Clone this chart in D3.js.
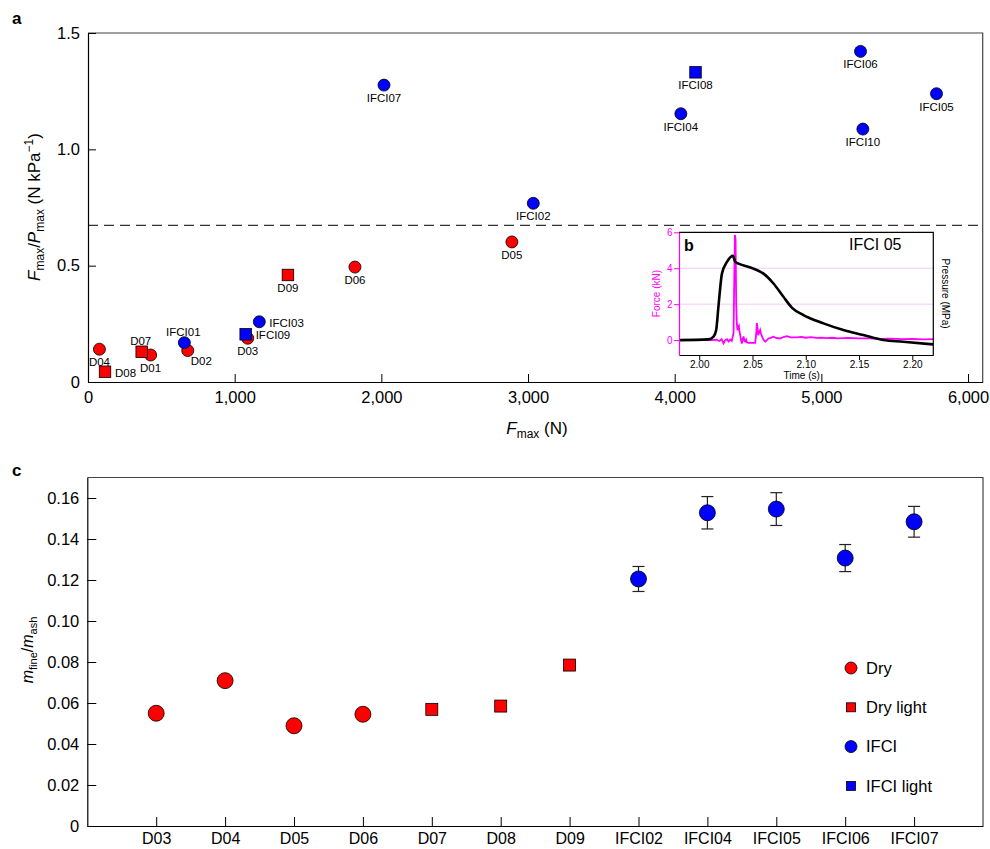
<!DOCTYPE html>
<html>

<head>
  <meta charset="utf-8">
  <title></title>
  <style>
    body { margin: 0; background: #fff; }
    svg { font-family: "Liberation Sans", Arial, sans-serif; }
  </style>
</head>

<body>

  <script src="https://d3js.org/d3.v7.min.js" charset="utf-8"></script>
  <script type="text/javascript">
    // ---- panel a : Fmax vs Fmax/Pmax
    var aNames = ["D01", "D02", "D03", "D04", "D05", "D06", "D07", "D08", "D09",
      "IFCI01", "IFCI02", "IFCI03", "IFCI04", "IFCI05", "IFCI06", "IFCI07", "IFCI08", "IFCI09", "IFCI10"];
    var aFmax = [427, 680, 1089, 78, 2890, 1820, 366, 116, 1363,
      657, 3036, 1168, 4042, 5785, 5267, 2018, 4142, 1075, 5283];
    var aRatio = [0.116, 0.135, 0.188, 0.141, 0.602, 0.494, 0.130, 0.044, 0.460,
      0.169, 0.768, 0.259, 1.153, 1.239, 1.421, 1.276, 1.331, 0.205, 1.087];
    var aGroup = ["Dry", "Dry", "Dry", "Dry", "Dry", "Dry", "Dry light", "Dry light", "Dry light",
      "IFCI", "IFCI", "IFCI", "IFCI", "IFCI", "IFCI", "IFCI", "IFCI light", "IFCI light", "IFCI"];
    var aLabelSide = ["below", "belowright", "below", "below", "below", "below", "above", "right", "below",
      "above", "below", "right", "below", "below", "below", "below", "below", "right", "below"];
    var aXTicks = [0, 1000, 2000, 3000, 4000, 5000, 6000];
    var aYTicks = [0, 0.5, 1.0, 1.5];
    var aThreshold = 0.673;

    // ---- panel b : IFCI 05 time series
    var bForceTime = [1.981, 1.990, 2.000, 2.010, 2.016, 2.019, 2.021, 2.0228, 2.0245, 2.026, 2.0275, 2.029,
      2.0305, 2.0315, 2.0322, 2.0330, 2.0335, 2.0341, 2.0347, 2.0353, 2.0359, 2.0366, 2.0372, 2.0378,
      2.0384, 2.0392, 2.0400, 2.0408, 2.0416, 2.0424, 2.0431, 2.0440, 2.0447, 2.046, 2.048, 2.050,
      2.0525, 2.0534, 2.0541, 2.0547, 2.0553, 2.0562, 2.0572, 2.058, 2.059, 2.0605, 2.0619, 2.0635,
      2.065, 2.067, 2.0697, 2.072, 2.0759, 2.079, 2.0822, 2.086, 2.0916, 2.096, 2.100, 2.105, 2.110,
      2.115, 2.120, 2.125, 2.130, 2.140, 2.150, 2.160, 2.170, 2.180, 2.190, 2.200, 2.210, 2.2197];
    var bForce = [0.0, 0.01, 0.0, 0.0, 0.02, -0.05, 0.05, -0.19, 0.0, 0.05, -0.08, 0.03,
      -0.04, 0.2, 0.4, 4.0, 5.85, 5.6, 2.0, 0.9, 0.55, 0.75, 0.8, 0.45,
      0.3, 0.0, -0.19, 0.05, 0.2, -0.05, -0.08, 0.02, -0.12, -0.15, -0.14, -0.16,
      -0.15, 0.3, 0.95, 0.7, 0.28, 0.4, 0.56, 0.35, 0.19, 0.0, -0.09, 0.0,
      0.09, 0.12, 0.19, 0.12, 0.09, 0.17, 0.22, 0.15, 0.15, 0.18, 0.13, 0.16, 0.12,
      0.14, 0.11, 0.13, 0.10, 0.12, 0.09, 0.10, 0.07, 0.08, 0.05, 0.06, 0.04, 0.05];
    var bPressTime = [1.981, 2.0087, 2.0134, 2.0159, 2.018, 2.0213, 2.026, 2.0316, 2.0338, 2.0369,
      2.0509, 2.0603, 2.0697, 2.079, 2.0869, 2.0978, 2.1166, 2.1353, 2.154, 2.1728, 2.1915, 2.2197];
    var bPressure = [0.0, 0.04, 0.19, 0.56, 1.85, 3.7, 4.35, 4.69, 4.35, 4.26,
      3.98, 3.7, 3.15, 2.41, 1.81, 1.39, 0.93, 0.56, 0.28, 0.0, -0.09, -0.24];
    var bTimeTicks = [2.00, 2.05, 2.10, 2.15, 2.20];
    var bForceTicks = [0, 2, 4, 6];

    // ---- panel c : mfine/mash
    var cCats = ["D03", "D04", "D05", "D06", "D07", "D08", "D09", "IFCI02", "IFCI04", "IFCI05", "IFCI06", "IFCI07"];
    var cValues = [0.0550, 0.0709, 0.0489, 0.0545, 0.0569, 0.0585, 0.0785, 0.1205, 0.1528, 0.1546, 0.1307, 0.1484];
    var cErrors = [0, 0, 0, 0, 0, 0, 0, 0.0061, 0.0079, 0.0080, 0.0066, 0.0075];
    var cGroup = ["Dry", "Dry", "Dry", "Dry", "Dry light", "Dry light", "Dry light", "IFCI", "IFCI", "IFCI", "IFCI", "IFCI"];
    var cYTicks = [0, 0.02, 0.04, 0.06, 0.08, 0.10, 0.12, 0.14, 0.16];
    var legendNames = ["Dry", "Dry light", "IFCI", "IFCI light"];

    var width = 990;
    var height = 849;
    var svg = d3.select("body")
      .append("svg")
      .attr("width", width)
      .attr("height", height);

    function fillOf(g) {
      return g.indexOf("Dry") === 0 ? "#ff0000" : "#0000ff";
    }

    function isSquare(g) {
      return g.indexOf("light") > 0;
    }

    // draws a marker (circle or square) into sel
    function addMarker(sel, g, cx, cy, r, side) {
      if (isSquare(g)) {
        sel.append("rect")
          .attr("x", cx - side / 2)
          .attr("y", cy - side / 2)
          .attr("width", side)
          .attr("height", side)
          .attr("fill", fillOf(g))
          .attr("stroke", "#000")
          .attr("stroke-width", 0.8);
      } else {
        sel.append("circle")
          .attr("cx", cx)
          .attr("cy", cy)
          .attr("r", r)
          .attr("fill", fillOf(g))
          .attr("stroke", "#000")
          .attr("stroke-width", 0.8);
      }
    }

    function styleAxis(g, size) {
      g.selectAll("text").attr("font-size", size).attr("font-family", "Liberation Sans, Arial, sans-serif").attr("fill", "#000");
      g.selectAll("line").attr("stroke-width", 1);
      g.select(".domain").attr("stroke-width", 1.2);
    }

    // ===================== panel a
    var xA = d3.scaleLinear().domain([0, 6100]).range([88, 982.7]);
    var yA = d3.scaleLinear().domain([0, 1.5]).range([382, 33]);

    var gA = svg.append("g");

    // frame top / right
    gA.append("path")
      .attr("d", "M" + xA.range()[0] + "," + yA(1.5) + "H" + xA.range()[1] + "V" + yA(0))
      .attr("fill", "none")
      .attr("stroke", "#444")
      .attr("stroke-width", 1.2);

    gA.append("line")
      .attr("x1", xA.range()[0])
      .attr("x2", xA.range()[1])
      .attr("y1", yA(aThreshold))
      .attr("y2", yA(aThreshold))
      .attr("stroke", "#333")
      .attr("stroke-width", 1.2)
      .attr("stroke-dasharray", "10,6");

    var axA = gA.append("g")
      .attr("transform", "translate(0," + yA(0) + ")")
      .call(d3.axisBottom(xA).tickValues(aXTicks).tickFormat(d3.format(",")).tickSize(-8).tickSizeOuter(0).tickPadding(9));
    styleAxis(axA, 16.5);

    var ayA = gA.append("g")
      .attr("transform", "translate(" + xA(0) + ",0)")
      .call(d3.axisLeft(yA).tickValues(aYTicks).tickFormat(function(d) {
        return d === 0 ? "0" : d3.format(".1f")(d);
      }).tickSize(-8).tickSizeOuter(0).tickPadding(8));
    styleAxis(ayA, 16.5);

    // axis titles
    var xtA = gA.append("text")
      .attr("x", 537)
      .attr("y", 434)
      .attr("text-anchor", "middle")
      .attr("font-size", 17);
    xtA.append("tspan").attr("font-style", "italic").text("F");
    xtA.append("tspan").attr("font-size", 12).attr("dy", 4).text("max");
    xtA.append("tspan").attr("dy", -4).text(" (N)");

    var ytA = gA.append("text")
      .attr("transform", "translate(40," + 207 + ") rotate(-90)")
      .attr("text-anchor", "middle")
      .attr("font-size", 17);
    ytA.append("tspan").attr("font-style", "italic").text("F");
    ytA.append("tspan").attr("font-size", 12).attr("dy", 4).text("max");
    ytA.append("tspan").attr("dy", -4).text("/");
    ytA.append("tspan").attr("font-style", "italic").text("P");
    ytA.append("tspan").attr("font-size", 12).attr("dy", 4).text("max");
    ytA.append("tspan").attr("dy", -4).text(" (N kPa");
    ytA.append("tspan").attr("font-size", 12).attr("dy", -7).text("\u22121");
    ytA.append("tspan").attr("dy", 7).text(")");

    svg.append("text")
      .attr("x", 12)
      .attr("y", 24)
      .attr("font-size", 17)
      .attr("font-weight", "bold")
      .text("a");

    // markers, drawn in group order
    var order = d3.range(aNames.length).sort(function(p, q) {
      var rank = { "Dry": 0, "Dry light": 1, "IFCI": 2, "IFCI light": 3 };
      return rank[aGroup[p]] - rank[aGroup[q]];
    });
    var markA = gA.append("g");
    order.forEach(function(i) {
      addMarker(markA, aGroup[i], xA(aFmax[i]), yA(aRatio[i]), 6, 11.5);
    });

    var labA = gA.append("g").attr("font-size", 11.5);
    aNames.forEach(function(name, i) {
      var px = xA(aFmax[i]);
      var py = yA(aRatio[i]);
      var t = labA.append("text").text(name);
      var side = aLabelSide[i];
      if (side === "below") {
        t.attr("x", px).attr("y", py + 17).attr("text-anchor", "middle");
      } else if (side === "above") {
        t.attr("x", px - 1).attr("y", py - 7).attr("text-anchor", "middle");
      } else if (side === "right") {
        t.attr("x", px + 10).attr("y", py + 5).attr("text-anchor", "start");
      } else {
        t.attr("x", px + 3).attr("y", py + 14).attr("text-anchor", "start");
      }
    });

    // ===================== panel b (inset)
    var xB = d3.scaleLinear().domain([1.981, 2.2197]).range([679, 933.3]);
    var yB = d3.scaleLinear().domain([-0.83, 6]).range([355, 232.3]);
    var pB = d3.scaleLinear().domain([-0.83, 6]).range([355, 232.3]);

    var gB = svg.append("g");
    gB.append("rect")
      .attr("x", xB.range()[0])
      .attr("y", yB.range()[1])
      .attr("width", xB.range()[1] - xB.range()[0])
      .attr("height", yB.range()[0] - yB.range()[1])
      .attr("fill", "#fff");

    gB.selectAll(".grid")
      .data([2, 4])
      .enter().append("line")
      .attr("x1", xB.range()[0])
      .attr("x2", xB.range()[1])
      .attr("y1", function(d) { return yB(d); })
      .attr("y2", function(d) { return yB(d); })
      .attr("stroke", "#f6caf6")
      .attr("stroke-width", 1);

    gB.append("clipPath").attr("id", "clipB")
      .append("rect")
      .attr("x", xB.range()[0])
      .attr("y", yB.range()[1])
      .attr("width", xB.range()[1] - xB.range()[0])
      .attr("height", yB.range()[0] - yB.range()[1]);

    var forcePts = bForceTime.map(function(t, i) { return [t, bForce[i]]; });
    var pressPts = bPressTime.map(function(t, i) { return [t, bPressure[i]]; });

    gB.append("path")
      .attr("clip-path", "url(#clipB)")
      .attr("d", d3.line().x(function(d) { return xB(d[0]); }).y(function(d) { return yB(d[1]); })(forcePts))
      .attr("fill", "none")
      .attr("stroke", "#ff00ff")
      .attr("stroke-width", 1.8);

    gB.append("path")
      .attr("clip-path", "url(#clipB)")
      .attr("d", d3.line().curve(d3.curveMonotoneX).x(function(d) { return xB(d[0]); }).y(function(d) { return pB(d[1]); })(pressPts))
      .attr("fill", "none")
      .attr("stroke", "#000")
      .attr("stroke-width", 2.6)
      .attr("stroke-linejoin", "round");

    // frame
    gB.append("path")
      .attr("d", "M" + xB.range()[0] + "," + yB.range()[1] + "H" + xB.range()[1] + "V" + yB.range()[0])
      .attr("fill", "none")
      .attr("stroke", "#000")
      .attr("stroke-width", 1.2);

    var axB = gB.append("g")
      .attr("transform", "translate(0," + yB.range()[0] + ")")
      .call(d3.axisBottom(xB).tickValues(bTimeTicks).tickFormat(d3.format(".2f")).tickSize(5).tickSizeOuter(0).tickPadding(1));
    styleAxis(axB, 10);

    var ayB = gB.append("g")
      .attr("transform", "translate(" + xB.range()[0] + ",0)")
      .attr("color", "#ff00ff")
      .call(d3.axisLeft(yB).tickValues(bForceTicks).tickFormat(d3.format("d")).tickSize(5).tickSizeOuter(0).tickPadding(1.5));
    styleAxis(ayB, 10);
    ayB.selectAll("text").attr("fill", "#ff00ff");

    gB.append("text")
      .attr("x", 801.7)
      .attr("y", 378.5)
      .attr("text-anchor", "middle")
      .attr("font-size", 10)
      .text("Time (s)");

    gB.append("text")
      .attr("transform", "translate(660,293.6) rotate(-90)")
      .attr("text-anchor", "middle")
      .attr("font-size", 10)
      .attr("fill", "#ff00ff")
      .text("Force (kN)");

    gB.append("text")
      .attr("transform", "translate(941.5,293.6) rotate(90)")
      .attr("text-anchor", "middle")
      .attr("font-size", 10)
      .text("Pressure (MPa)");

    gB.append("text")
      .attr("x", 684)
      .attr("y", 251)
      .attr("font-size", 16)
      .attr("font-weight", "bold")
      .text("b");

    gB.append("text")
      .attr("x", 849)
      .attr("y", 249.5)
      .attr("font-size", 16)
      .text("IFCI 05");

    // ===================== panel c
    var xC = d3.scalePoint().domain(cCats).range([87.3, 983]).padding(1);
    var yC = d3.scaleLinear().domain([0, 0.17]).range([826, 477.5]);

    var gC = svg.append("g");

    gC.append("path")
      .attr("d", "M" + xC.range()[0] + "," + yC(0.17) + "H" + xC.range()[1] + "V" + yC(0))
      .attr("fill", "none")
      .attr("stroke", "#444")
      .attr("stroke-width", 1.2);

    var axC = gC.append("g")
      .attr("transform", "translate(0," + yC(0) + ")")
      .call(d3.axisBottom(xC).tickSize(-9).tickSizeOuter(0).tickPadding(7));
    styleAxis(axC, 16);

    var ayC = gC.append("g")
      .attr("transform", "translate(" + xC.range()[0] + ",0)")
      .call(d3.axisLeft(yC).tickValues(cYTicks).tickFormat(function(d) {
        return d === 0 ? "0" : d3.format(".2f")(d);
      }).tickSize(-9).tickSizeOuter(0).tickPadding(8));
    styleAxis(ayC, 16.5);

    var ytC = gC.append("text")
      .attr("transform", "translate(33,650) rotate(-90)")
      .attr("text-anchor", "middle")
      .attr("font-size", 16);
    ytC.append("tspan").attr("font-style", "italic").text("m");
    ytC.append("tspan").attr("font-size", 11).attr("dy", 4).text("fine");
    ytC.append("tspan").attr("dy", -4).text("/");
    ytC.append("tspan").attr("font-style", "italic").text("m");
    ytC.append("tspan").attr("font-size", 11).attr("dy", 4).text("ash");

    svg.append("text")
      .attr("x", 12)
      .attr("y", 476)
      .attr("font-size", 17)
      .attr("font-weight", "bold")
      .text("c");

    // error bars
    var errG = gC.append("g").attr("stroke", "#222").attr("stroke-width", 1.2);
    cCats.forEach(function(c, i) {
      if (!cErrors[i]) return;
      var x = xC(c);
      var y1 = yC(cValues[i] + cErrors[i]);
      var y2 = yC(cValues[i] - cErrors[i]);
      errG.append("line").attr("x1", x).attr("x2", x).attr("y1", y1).attr("y2", y2);
      errG.append("line").attr("x1", x - 6).attr("x2", x + 6).attr("y1", y1).attr("y2", y1);
      errG.append("line").attr("x1", x - 6).attr("x2", x + 6).attr("y1", y2).attr("y2", y2);
    });

    var markC = gC.append("g");
    cCats.forEach(function(c, i) {
      addMarker(markC, cGroup[i], xC(c), yC(cValues[i]), 8, 12);
    });

    // legend
    var leg = gC.append("g").attr("font-size", 16.5);
    legendNames.forEach(function(name, i) {
      var ly = 668 + i * 39.3;
      addMarker(leg, name, 851, ly, 6, 9);
      leg.append("text")
        .attr("x", 866)
        .attr("y", ly)
        .attr("dy", "0.35em")
        .text(name);
    });
  </script>
</body>

</html>
